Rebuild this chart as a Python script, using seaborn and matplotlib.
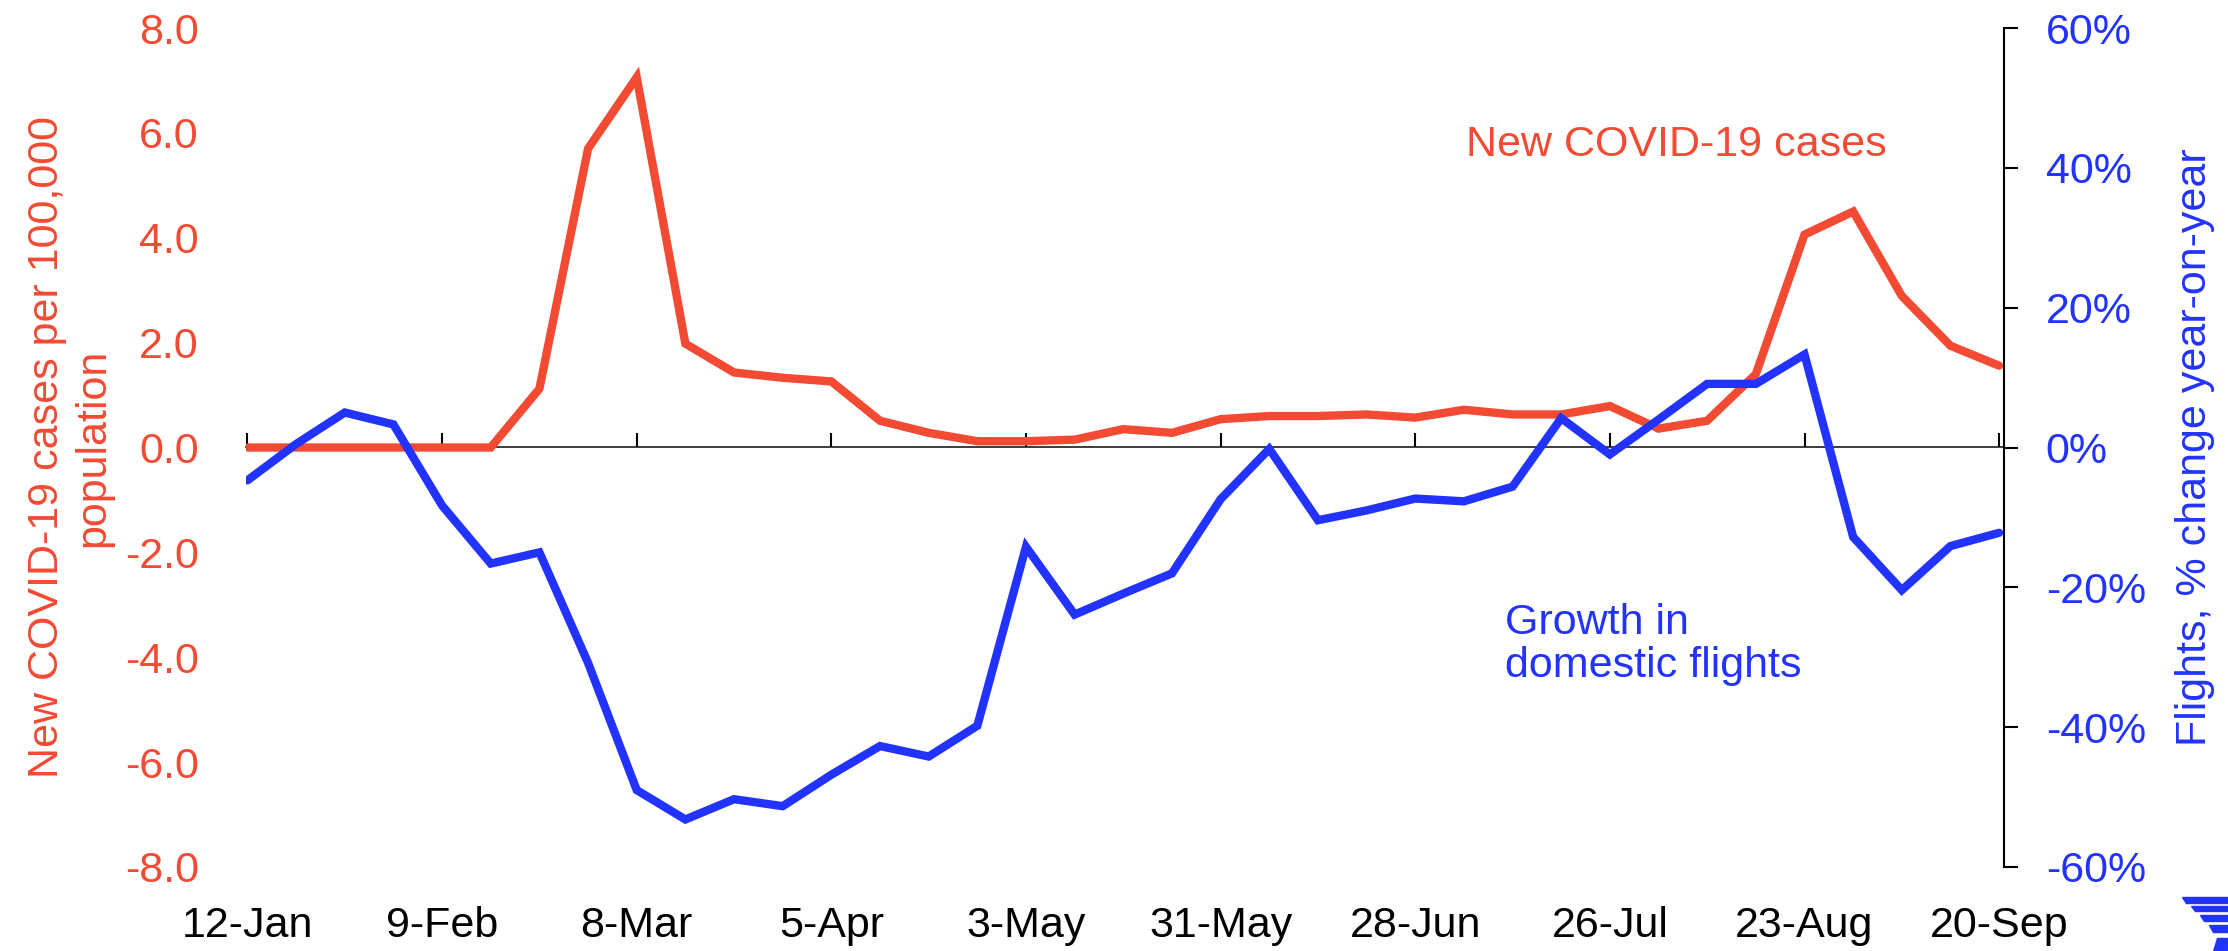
import matplotlib
matplotlib.use("Agg")
import matplotlib.pyplot as plt
from matplotlib.patches import Polygon
import seaborn as sns
import pandas as pd
import numpy as np

# ---- data ----
weeks = list(range(37))
tick_weeks = [0, 4, 8, 12, 16, 20, 24, 28, 32, 36]
tick_labels = ["12-Jan", "9-Feb", "8-Mar", "5-Apr", "3-May", "31-May",
               "28-Jun", "26-Jul", "23-Aug", "20-Sep"]
covid_cases = [0, 0, 0, 0, 0, 0, 1.12, 5.70, 7.06, 1.98, 1.43, 1.33, 1.26,
               0.51, 0.28, 0.12, 0.12, 0.15, 0.35, 0.28, 0.54, 0.60, 0.60,
               0.63, 0.57, 0.72, 0.63, 0.63, 0.79, 0.36, 0.51, 1.40, 4.06,
               4.50, 2.89, 1.94, 1.56]
flights_growth = [-4.7, 0.5, 5.0, 3.3, -8.3, -16.6, -15.0, -30.8, -49.0,
                  -53.2, -50.3, -51.3, -46.8, -42.7, -44.2, -39.8, -14.2,
                  -23.9, -20.9, -18.0, -7.4, -0.2, -10.4, -9.0, -7.3, -7.7,
                  -5.6, 4.2, -1.0, 4.0, 9.1, 9.1, 13.3, -12.8, -20.4, -14.1,
                  -12.2]
left_ticks = [-8, -6, -4, -2, 0, 2, 4, 6, 8]
right_ticks = [-60, -40, -20, 0, 20, 40, 60]

RED = "#F24A33"
BLUE = "#2233FF"

df = pd.DataFrame({"week": weeks, "cases": covid_cases, "flights": flights_growth})

sns.set_theme(style="white")
plt.rcParams["font.family"] = ["Liberation Sans", "DejaVu Sans"]

W, H = 2228, 951
fig = plt.figure(figsize=(W / 100, H / 100), dpi=100)
L, R, T, B = 246, 2004, 28, 867
ax = fig.add_axes([L / W, (H - B) / H, (R - L) / W, (B - T) / H])
ax2 = ax.twinx()

sns.lineplot(data=df, x="week", y="cases", ax=ax, color=RED, linewidth=6,
             solid_capstyle="round", solid_joinstyle="miter")
sns.lineplot(data=df, x="week", y="flights", ax=ax2, color=BLUE, linewidth=6,
             solid_capstyle="round", solid_joinstyle="miter")

ax.set_xlim(-0.03, 36.1)
ax.set_ylim(-8, 8)
ax2.set_ylim(-60, 60)

FS = 31
# left axis
ax.set_yticks(left_ticks)
ax.set_yticklabels([f"{v:.1f}" for v in left_ticks])
ax.tick_params(axis="y", colors=RED, labelsize=FS, length=0, pad=34)
ax.set_ylabel("New COVID-19 cases per 100,000\npopulation", color=RED,
              fontsize=FS, linespacing=1.2)
ax.yaxis.set_label_coords(-0.0757, 0.5)

# x axis: labels at bottom, ticks on zero line
ax.set_xticks(tick_weeks)
ax.set_xticklabels(tick_labels)
ax.tick_params(axis="x", colors="black", labelsize=FS, length=0, pad=28)
ax.set_xlabel("")
for s in ["top", "left", "right", "bottom"]:
    ax.spines[s].set_visible(False)

sec = ax.secondary_xaxis(0.5)
sec.set_xticks(tick_weeks)
sec.tick_params(axis="x", direction="out", length=10, width=1.5,
                color="black", labelbottom=False, labeltop=False)
sec.spines["bottom"].set_linewidth(1.5)
sec.spines["bottom"].set_color("black")

# right axis
ax2.set_yticks(right_ticks)
ax2.set_yticklabels([f"{v}%" for v in right_ticks])
ax2.tick_params(axis="y", colors=BLUE, labelsize=FS, direction="out",
                length=10, width=1.5, pad=20)
ax2.tick_params(axis="y", color="black")
ax2.set_ylabel("Flights, % change year-on-year", color=BLUE, fontsize=FS)
ax2.yaxis.set_label_coords(1.097, 0.5)
for s in ["top", "left", "bottom"]:
    ax2.spines[s].set_visible(False)
ax2.spines["right"].set_color("black")
ax2.spines["right"].set_linewidth(1.5)
ax2.grid(False)
ax.grid(False)

# annotations
ax.text(0.694, 0.861, "New COVID-19 cases", transform=ax.transAxes,
        color=RED, fontsize=FS, ha="left", va="center")
ax.text(0.716, 0.265, "Growth in\ndomestic flights", transform=ax.transAxes,
        color=BLUE, fontsize=FS, ha="left", va="center", linespacing=1.1)

# small corner logo
def px(x, y):
    return (x / W, 1 - y / H)

stripes = [
    [(2182, 897), (2228, 897), (2228, 903), (2186, 903)],
    [(2191, 906), (2228, 906), (2228, 911), (2195, 911)],
    [(2200, 915), (2228, 915), (2228, 921), (2204, 921)],
    [(2209, 925), (2228, 925), (2228, 932), (2213, 932)],
    [(2217, 938), (2228, 938), (2228, 951), (2213, 951)],
]
for st in stripes:
    fig.patches.append(Polygon([px(*p) for p in st], closed=True,
                               transform=fig.transFigure, color=BLUE))

fig.savefig("out.png", dpi=100)
